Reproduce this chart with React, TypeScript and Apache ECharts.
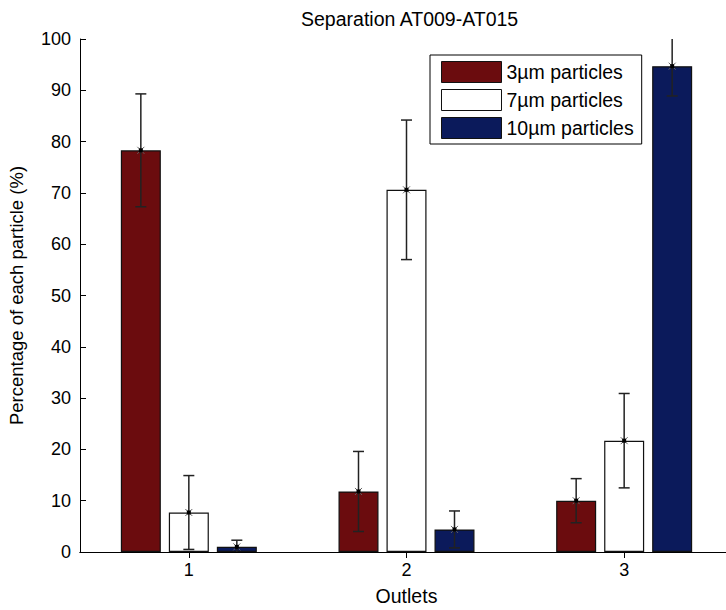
import React, { useEffect, useRef } from "react";
import * as echarts from "echarts";

const categories = ["1", "2", "3"];
const seriesNames = ["3µm particles", "7µm particles", "10µm particles"];
const values3um = [78.3, 11.8, 10.0];
const errors3um = [11.0, 7.8, 4.3];
const values7um = [7.7, 70.6, 21.7];
const errors7um = [7.2, 13.6, 9.2];
const values10um = [1.0, 4.4, 94.7];
const errors10um = [1.3, 3.6, 5.8];
const yTicks = { min: 0, max: 100, interval: 10 };

const COLORS = ["#6b0c0e", "#ffffff", "#0b1a5b"];
const BAR_W = 40;
const BAR_GAP = 8;
const FONT = "'Liberation Sans', Arial, sans-serif";

export default function App() {
  const ref = useRef<HTMLDivElement>(null);
  useEffect(() => {
    if (!ref.current) return;
    const chart = echarts.init(ref.current, undefined, { renderer: "svg" });
    const allVals = [values3um, values7um, values10um];
    const allErrs = [errors3um, errors7um, errors10um];
    const errData: number[][] = [];
    allVals.forEach((vals, g) => {
      vals.forEach((v, c) => errData.push([c, v, allErrs[g][c], g]));
    });

    const tickStyle = { show: true, inside: true, length: 6, lineStyle: { color: "#000", width: 1 } };
    const lineStyle = { show: true, lineStyle: { color: "#000", width: 1 } };

    chart.setOption({
      animation: false,
      backgroundColor: "#fff",
      textStyle: { fontFamily: FONT },
      title: {
        text: "Separation AT009-AT015",
        left: 296,
        top: 4,
        textStyle: { fontSize: 19.5, fontWeight: "normal", color: "#000", fontFamily: FONT },
      },
      legend: {
        orient: "vertical",
        left: 430,
        top: 55,
        data: seriesNames,
        icon: "rect",
        itemWidth: 60,
        itemHeight: 21,
        itemGap: 6,
        padding: [6, 8, 5, 11],
        borderColor: "#000",
        borderWidth: 1,
        backgroundColor: "#fff",
        itemStyle: { borderColor: "#111", borderWidth: 1 },
        textStyle: { fontSize: 19.5, color: "#000", fontFamily: FONT, lineHeight: 21 },
        selectedMode: false,
        z: 10,
      },
      grid: { left: 80, top: 39, width: 653, height: 513, containLabel: false, outerBoundsMode: "none" },
      xAxis: [
        {
          type: "category",
          data: categories,
          position: "bottom",
          axisLine: lineStyle,
          axisTick: { ...tickStyle, alignWithLabel: true },
          axisLabel: { fontSize: 18, color: "#000", margin: 9, fontFamily: FONT },
          name: "Outlets",
          nameLocation: "middle",
          nameGap: 34,
          nameTextStyle: { fontSize: 19.5, color: "#000", fontFamily: FONT },
        },
        {
          type: "category",
          data: categories,
          position: "top",
          axisLine: lineStyle,
          axisTick: { ...tickStyle, alignWithLabel: true },
          axisLabel: { show: false },
        },
      ],
      yAxis: [
        {
          type: "value",
          ...yTicks,
          position: "left",
          axisLine: lineStyle,
          axisTick: tickStyle,
          splitLine: { show: false },
          axisLabel: { fontSize: 18, color: "#000", margin: 9, fontFamily: FONT },
          name: "Percentage of each particle (%)",
          nameLocation: "middle",
          nameGap: 54,
          nameRotate: 90,
          nameTextStyle: { fontSize: 18.5, color: "#000", fontFamily: FONT },
        },
        {
          type: "value",
          ...yTicks,
          position: "right",
          axisLine: lineStyle,
          axisTick: tickStyle,
          splitLine: { show: false },
          axisLabel: { show: false },
        },
      ],
      series: [
        ...allVals.map((vals, g) => ({
          type: "bar",
          name: seriesNames[g],
          data: vals,
          barWidth: BAR_W,
          barGap: `${(BAR_GAP / BAR_W) * 100}%`,
          itemStyle: { color: COLORS[g], borderColor: "#111", borderWidth: 1.2 },
        })),
        {
          type: "custom",
          name: "errors",
          data: errData,
          clip: true,
          z: 5,
          renderItem: (params: any, api: any) => {
            const c = api.value(0);
            const v = api.value(1);
            const e = api.value(2);
            const g = api.value(3);
            const off = (g - 1) * (BAR_W + BAR_GAP);
            const mid = api.coord([c, v]);
            const hi = api.coord([c, v + e]);
            const lo = api.coord([c, v - e]);
            const x = mid[0] + off;
            const cap = 5.5;
            const s = 3.5;
            const stroke = { stroke: "#222", lineWidth: 1.5 };
            const thin = { stroke: "#666", lineWidth: 1 };
            return {
              type: "group",
              children: [
                { type: "line", shape: { x1: x, y1: hi[1], x2: x, y2: lo[1] }, style: stroke },
                { type: "line", shape: { x1: x - cap, y1: hi[1], x2: x + cap, y2: hi[1] }, style: stroke },
                { type: "line", shape: { x1: x - cap, y1: lo[1], x2: x + cap, y2: lo[1] }, style: stroke },
                { type: "line", shape: { x1: x - s, y1: mid[1] - s, x2: x + s, y2: mid[1] + s }, style: thin },
                { type: "line", shape: { x1: x - s, y1: mid[1] + s, x2: x + s, y2: mid[1] - s }, style: thin },
                { type: "rect", shape: { x: x - 2, y: mid[1] - 2, width: 4, height: 4 }, style: { fill: "#000" } },
              ],
            };
          },
        },
      ],
    });
    return () => chart.dispose();
  }, []);
  return (
    <div
      ref={ref}
      style={{ position: "fixed", left: 0, top: 0, width: 726, height: 610, background: "#fff" }}
    />
  );
}
